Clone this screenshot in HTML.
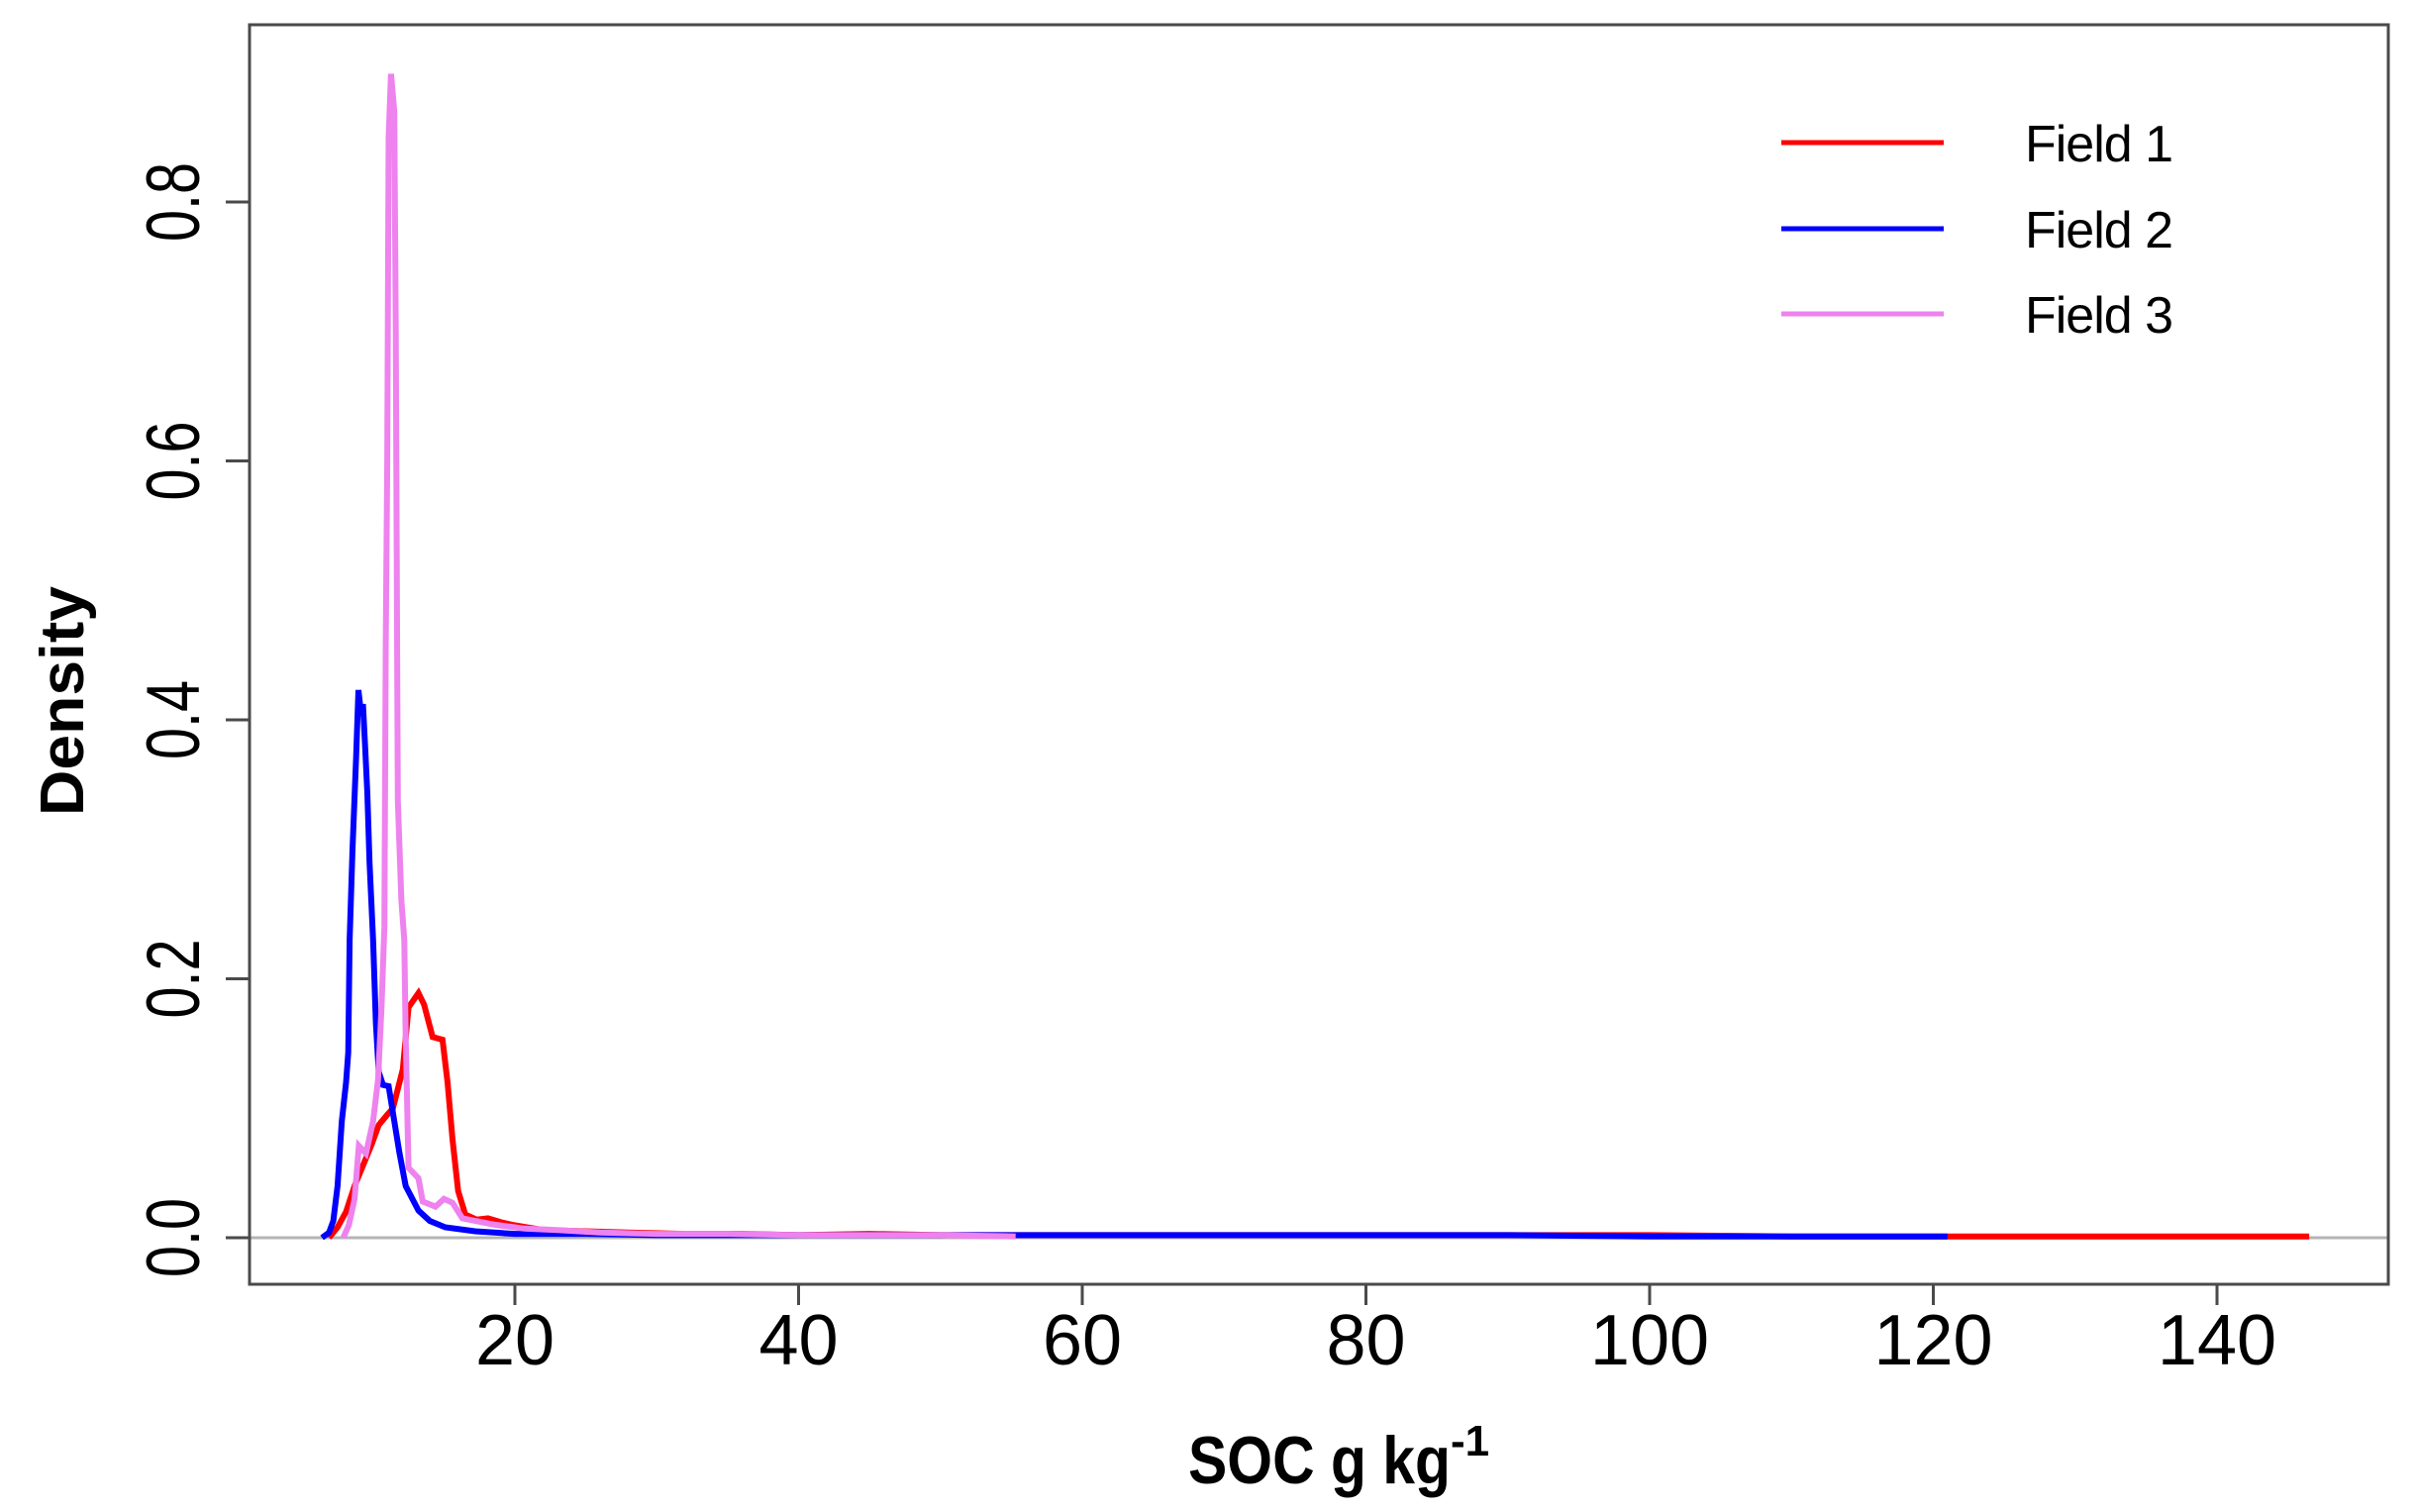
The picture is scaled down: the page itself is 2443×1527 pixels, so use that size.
<!DOCTYPE html>
<html><head><meta charset="utf-8"><style>
html,body{margin:0;padding:0;background:#fff;}
svg{display:block;}
</style></head><body>
<svg id="chart" width="2443" height="1527" viewBox="0 0 2443 1527" xmlns="http://www.w3.org/2000/svg">
  <rect x="0" y="0" width="2443" height="1527" fill="#fff"/>
  <g id="plot"></g>
  <g id="axes"></g>
  <g>
    <line x1="1799" y1="144" x2="1963" y2="144" stroke="#ff0000" stroke-width="5"/>
    <line x1="1799" y1="231" x2="1963" y2="231" stroke="#0000ff" stroke-width="5"/>
    <line x1="1799" y1="317" x2="1963" y2="317" stroke="#ee82ee" stroke-width="5"/>
    <text x="2045" y="163" font-family="Liberation Sans, sans-serif" font-size="52" fill="#000" textLength="150">Field 1</text>
    <text x="2045" y="250" font-family="Liberation Sans, sans-serif" font-size="52" fill="#000" textLength="150">Field 2</text>
    <text x="2045" y="336" font-family="Liberation Sans, sans-serif" font-size="52" fill="#000" textLength="150">Field 3</text>
  </g>
  <text x="0" y="0" transform="translate(84,708) rotate(-90)" text-anchor="middle" font-family="Liberation Sans, sans-serif" font-weight="bold" font-size="62" textLength="232" lengthAdjust="spacingAndGlyphs">Density</text>
  <text x="1200" y="1498" font-family="Liberation Sans, sans-serif" font-weight="bold" font-size="68"><tspan textLength="265" lengthAdjust="spacingAndGlyphs">SOC g kg</tspan><tspan dy="-28" font-size="44">-1</tspan></text>
</svg>
<script>
const xTicks = [20, 40, 60, 80, 100, 120, 140];
const yTicks = [0.0, 0.2, 0.4, 0.6, 0.8];
const yTickLabels = ["0.0", "0.2", "0.4", "0.6", "0.8"];

const field1X = [6.9, 7.5, 8.1, 8.7, 9.3, 9.9, 10.4, 11.0, 11.4, 12.1, 12.5, 13.2, 13.6, 14.2, 14.9, 15.25, 15.6, 16.0, 16.5, 17.3, 18.1, 19.0, 19.8, 22, 25, 28, 32, 36, 40, 45, 50, 55, 60, 70, 80, 90, 100, 110, 120, 130, 140, 146.5];
const field1Y = [0, 0.008, 0.02, 0.04, 0.056, 0.072, 0.087, 0.095, 0.10, 0.13, 0.178, 0.189, 0.18, 0.155, 0.153, 0.12, 0.076, 0.036, 0.018, 0.014, 0.015, 0.012, 0.01, 0.006, 0.005, 0.004, 0.003, 0.003, 0.002, 0.003, 0.002, 0.002, 0.002, 0.002, 0.002, 0.002, 0.002, 0.001, 0.001, 0.001, 0.001, 0.001];

const field2X = [6.4, 6.9, 7.2, 7.5, 7.8, 8.1, 8.25, 8.35, 8.55, 8.8, 8.97, 9.1, 9.3, 9.45, 9.6, 9.75, 10.0, 10.2, 10.4, 10.7, 11.1, 11.5, 11.85, 12.3, 13.2, 14.0, 15.1, 17.2, 20, 25, 30, 40, 50, 60, 70, 80, 90, 100, 110, 121];
const field2Y = [0, 0.004, 0.013, 0.04, 0.09, 0.12, 0.143, 0.23, 0.30, 0.37, 0.423, 0.41, 0.41, 0.377, 0.343, 0.29, 0.23, 0.166, 0.128, 0.118, 0.117, 0.09, 0.066, 0.04, 0.021, 0.013, 0.008, 0.005, 0.003, 0.003, 0.002, 0.002, 0.002, 0.002, 0.002, 0.002, 0.002, 0.001, 0.001, 0.001];

const field3X = [7.9, 8.3, 8.7, 9.0, 9.5, 10.0, 10.35, 10.6, 10.8, 10.9, 11.0, 11.1, 11.27, 11.5, 11.6, 11.7, 11.75, 12.0, 12.2, 12.3, 12.5, 13.2, 13.5, 14.4, 15.0, 15.6, 16.3, 18.6, 20.7, 23, 26, 30, 35, 40, 45, 50, 55.3];
const field3Y = [0, 0.01, 0.03, 0.071, 0.065, 0.09, 0.122, 0.178, 0.24, 0.46, 0.6, 0.85, 0.899, 0.87, 0.7, 0.45, 0.337, 0.26, 0.23, 0.155, 0.054, 0.046, 0.028, 0.024, 0.03, 0.027, 0.015, 0.01, 0.007, 0.006, 0.004, 0.003, 0.003, 0.002, 0.002, 0.002, 0.001];

const NS = "http://www.w3.org/2000/svg";
const X0 = 233.5, XS = 14.325;
const Y0 = 1250, YS = 1307.5;
function xScale(v) { return X0 + XS * v; }
function yScale(d) { return Y0 - YS * d; }

const plot = document.getElementById('plot');
const axes = document.getElementById('axes');

function mk(tag, attrs, parent) {
  const el = document.createElementNS(NS, tag);
  for (const k in attrs) el.setAttribute(k, attrs[k]);
  parent.appendChild(el);
  return el;
}

const zl = mk('line', {x1: 252, x2: 2412, y1: yScale(0), y2: yScale(0), stroke: '#b4b4b4', 'stroke-width': 3}, plot);



function series(xs, ys, color, name) {
  let d = '';
  for (let i = 0; i < xs.length; i++) d += (i ? 'L' : 'M') + xScale(xs[i]).toFixed(1) + ' ' + yScale(ys[i]).toFixed(1);
  const p = mk('path', {d: d, fill: 'none', stroke: color, 'stroke-width': 6, 'stroke-linejoin': 'miter'}, plot);
  
  
}
series(field1X, field1Y, '#ff0000', 'field-1-density-line');
series(field2X, field2Y, '#0000ff', 'field-2-density-line');
series(field3X, field3Y, '#ee82ee', 'field-3-density-line');

const box = mk('rect', {x: 252, y: 25, width: 2160, height: 1272, fill: 'none', stroke: '#4a4a4a', 'stroke-width': 3}, axes);



xTicks.forEach(function (t) {
  const x = xScale(t);
  const tk = mk('line', {x1: x, x2: x, y1: 1297, y2: 1318, stroke: '#4a4a4a', 'stroke-width': 3}, axes);
  
  
  const tx = mk('text', {x: x, y: 1378, 'text-anchor': 'middle', 'font-family': 'Liberation Sans, sans-serif', 'font-size': 72, fill: '#000'}, axes);
  
  
  tx.textContent = String(t);
});

yTicks.forEach(function (t, i) {
  const y = yScale(t);
  const tk = mk('line', {x1: 228, x2: 252, y1: y, y2: y, stroke: '#4a4a4a', 'stroke-width': 3}, axes);
  
  
  const tx = mk('text', {x: 0, y: 0, transform: 'translate(201,' + y + ') rotate(-90)', 'text-anchor': 'middle', 'font-family': 'Liberation Sans, sans-serif', 'font-size': 76, textLength: 80, lengthAdjust: 'spacingAndGlyphs', fill: '#000'}, axes);
  
  
  tx.textContent = yTickLabels[i];
});
</script>
</body></html>
